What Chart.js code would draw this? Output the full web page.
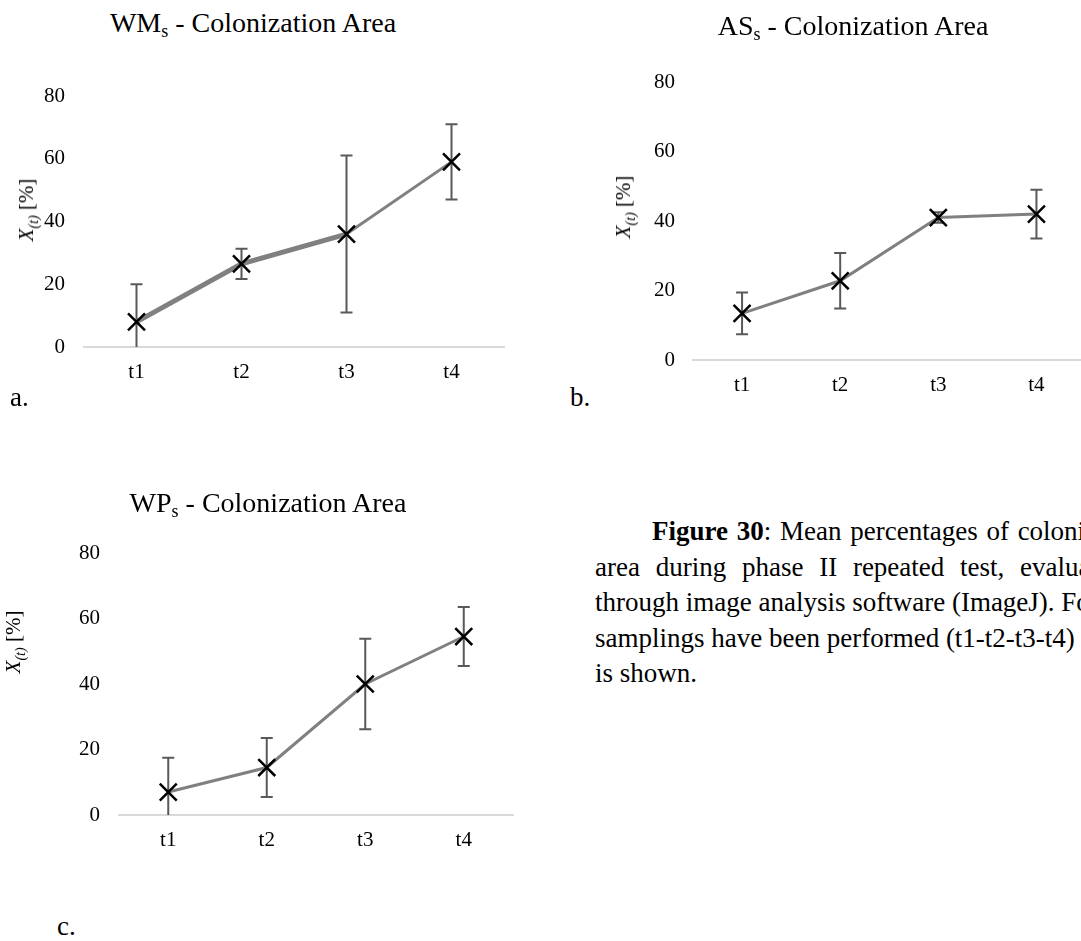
<!DOCTYPE html>
<html>
<head>
<meta charset="utf-8">
<script src="https://cdn.jsdelivr.net/npm/chart.js@4.4.0/dist/chart.umd.min.js"></script>
<style>
  html, body { margin: 0; padding: 0; background: #fff; overflow: hidden; }
  body { width: 1081px; height: 941px; position: relative; font-family: "Liberation Serif", "Times New Roman", serif; color: #000; }
  canvas { position: absolute; }
  .title { position: absolute; font-size: 28px; line-height: 28px; white-space: nowrap; transform: translateX(-50%); }
  .title sub { font-size: 18px; line-height: 0; vertical-align: -5px; }
  .ylab { position: absolute; font-size: 21px; line-height: 24px; white-space: nowrap; transform: translate(-50%, -50%) rotate(-90deg); }
  .ylab i sub { font-size: 14px; line-height: 0; }
  .tag { position: absolute; font-size: 27px; line-height: 30px; }
  .caption { position: absolute; left: 595px; top: 514px; font-size: 27px; line-height: 35.5px; }
  .caption div { white-space: nowrap; }
</style>
</head>
<body>

<canvas id="chart-wm" width="520" height="340" style="left:0;top:60px"></canvas>
<canvas id="chart-as" width="500" height="370" style="left:600px;top:40px"></canvas>
<canvas id="chart-wp" width="510" height="350" style="left:20px;top:520px"></canvas>

<div class="title" style="left:253px;top:9px">WM<sub>s</sub> - Colonization Area</div>
<div class="title" style="left:853px;top:12px">AS<sub>s</sub> - Colonization Area</div>
<div class="title" style="left:268px;top:489px">WP<sub>s</sub> - Colonization Area</div>

<div class="ylab" style="left:26px;top:210px"><i>X<sub>(t)</sub></i> [%]</div>
<div class="ylab" style="left:623px;top:207px"><i>X<sub>(t)</sub></i> [%]</div>
<div class="ylab" style="left:13px;top:642px"><i>X<sub>(t)</sub></i> [%]</div>

<div class="tag" style="left:10px;top:382px">a.</div>
<div class="tag" style="left:570px;top:382px">b.</div>
<div class="tag" style="left:57px;top:911px">c.</div>

<div class="caption">
  <div style="padding-left:57px;word-spacing:2px"><b>Figure 30</b>: Mean percentages of colonization</div>
  <div style="word-spacing:9px">area during phase II repeated test, evaluated</div>
  <div style="word-spacing:0px">through image analysis software (ImageJ). Four</div>
  <div style="word-spacing:0px">samplings have been performed (t1-t2-t3-t4) and</div>
  <div>is shown.</div>
</div>

<script>
const timeLabels = ['t1', 't2', 't3', 't4'];

// mean colonization area (%) and standard deviation per sampling
const wmMean = [8, 26.5, 36, 59];
const wmErr  = [12, 4.8, 25, 12];

const asMean = [13.4, 22.8, 41, 42];
const asErr  = [6, 8, 1.5, 7];

const wpMean = [7, 14.5, 40, 54.5];
const wpErr  = [10.5, 9, 13.8, 9];

const FONT = '"Liberation Serif", "Times New Roman", serif';

// vertical error bars with caps, drawn under the line
const errorBars = {
  id: 'errorBars',
  beforeDatasetsDraw(chart, args, opts) {
    const { ctx, chartArea, scales: { x, y } } = chart;
    const means = chart.data.datasets[0].data;
    ctx.save();
    ctx.beginPath();
    ctx.rect(chartArea.left, chartArea.top - 10, chartArea.width, chartArea.height + 10);
    ctx.clip();
    ctx.strokeStyle = '#595959';
    ctx.lineWidth = 2;
    means.forEach((m, i) => {
      const px = x.getPixelForValue(i);
      const top = y.getPixelForValue(m + opts.err[i]);
      const bot = y.getPixelForValue(m - opts.err[i]);
      ctx.beginPath();
      ctx.moveTo(px, top); ctx.lineTo(px, bot);
      ctx.moveTo(px - 6, top); ctx.lineTo(px + 6, top);
      ctx.moveTo(px - 6, bot); ctx.lineTo(px + 6, bot);
      ctx.stroke();
    });
    ctx.restore();
  }
};

function makeChart(id, mean, err, box, thickSegments) {
  return new Chart(document.getElementById(id), {
    type: 'line',
    data: {
      labels: timeLabels,
      datasets: [{
        data: mean,
        borderColor: '#808080',
        borderWidth: 3,
        tension: 0,
        pointStyle: 'crossRot',
        pointRadius: 12,
        pointHoverRadius: 12,
        pointBorderColor: '#000',
        pointBorderWidth: 2.5,
        segment: {
          borderWidth: c => (c.p0DataIndex < thickSegments ? 5 : 3)
        }
      }]
    },
    options: {
      responsive: false,
      animation: false,
      devicePixelRatio: 1,
      layout: { padding: { top: box.top, right: box.right, left: 0, bottom: 0 } },
      plugins: {
        legend: { display: false },
        tooltip: { enabled: false },
        errorBars: { err }
      },
      scales: {
        x: {
          offset: true,
          grid: { display: false, drawTicks: false },
          border: { display: true, color: '#d9d9d9', width: 2 },
          ticks: { color: '#000', padding: 13, font: { family: FONT, size: 21 } },
          afterFit: s => { s.height = box.xh; }
        },
        y: {
          min: 0,
          max: 80,
          grid: { display: false, drawTicks: false },
          border: { display: false },
          ticks: { stepSize: 20, color: '#000', padding: box.pad, font: { family: FONT, size: 21 } },
          afterFit: s => { s.width = box.yw; }
        }
      }
    },
    plugins: [errorBars]
  });
}

makeChart('chart-wm', wmMean, wmErr, { top: 36, right: 16, xh: 53, yw: 84, pad: 19 }, 2);
makeChart('chart-as', asMean, asErr, { top: 42, right: 11, xh: 50, yw: 93, pad: 18 }, 0);
makeChart('chart-wp', wpMean, wpErr, { top: 33, right: 17, xh: 55, yw: 99, pad: 19 }, 0);
</script>
</body>
</html>
